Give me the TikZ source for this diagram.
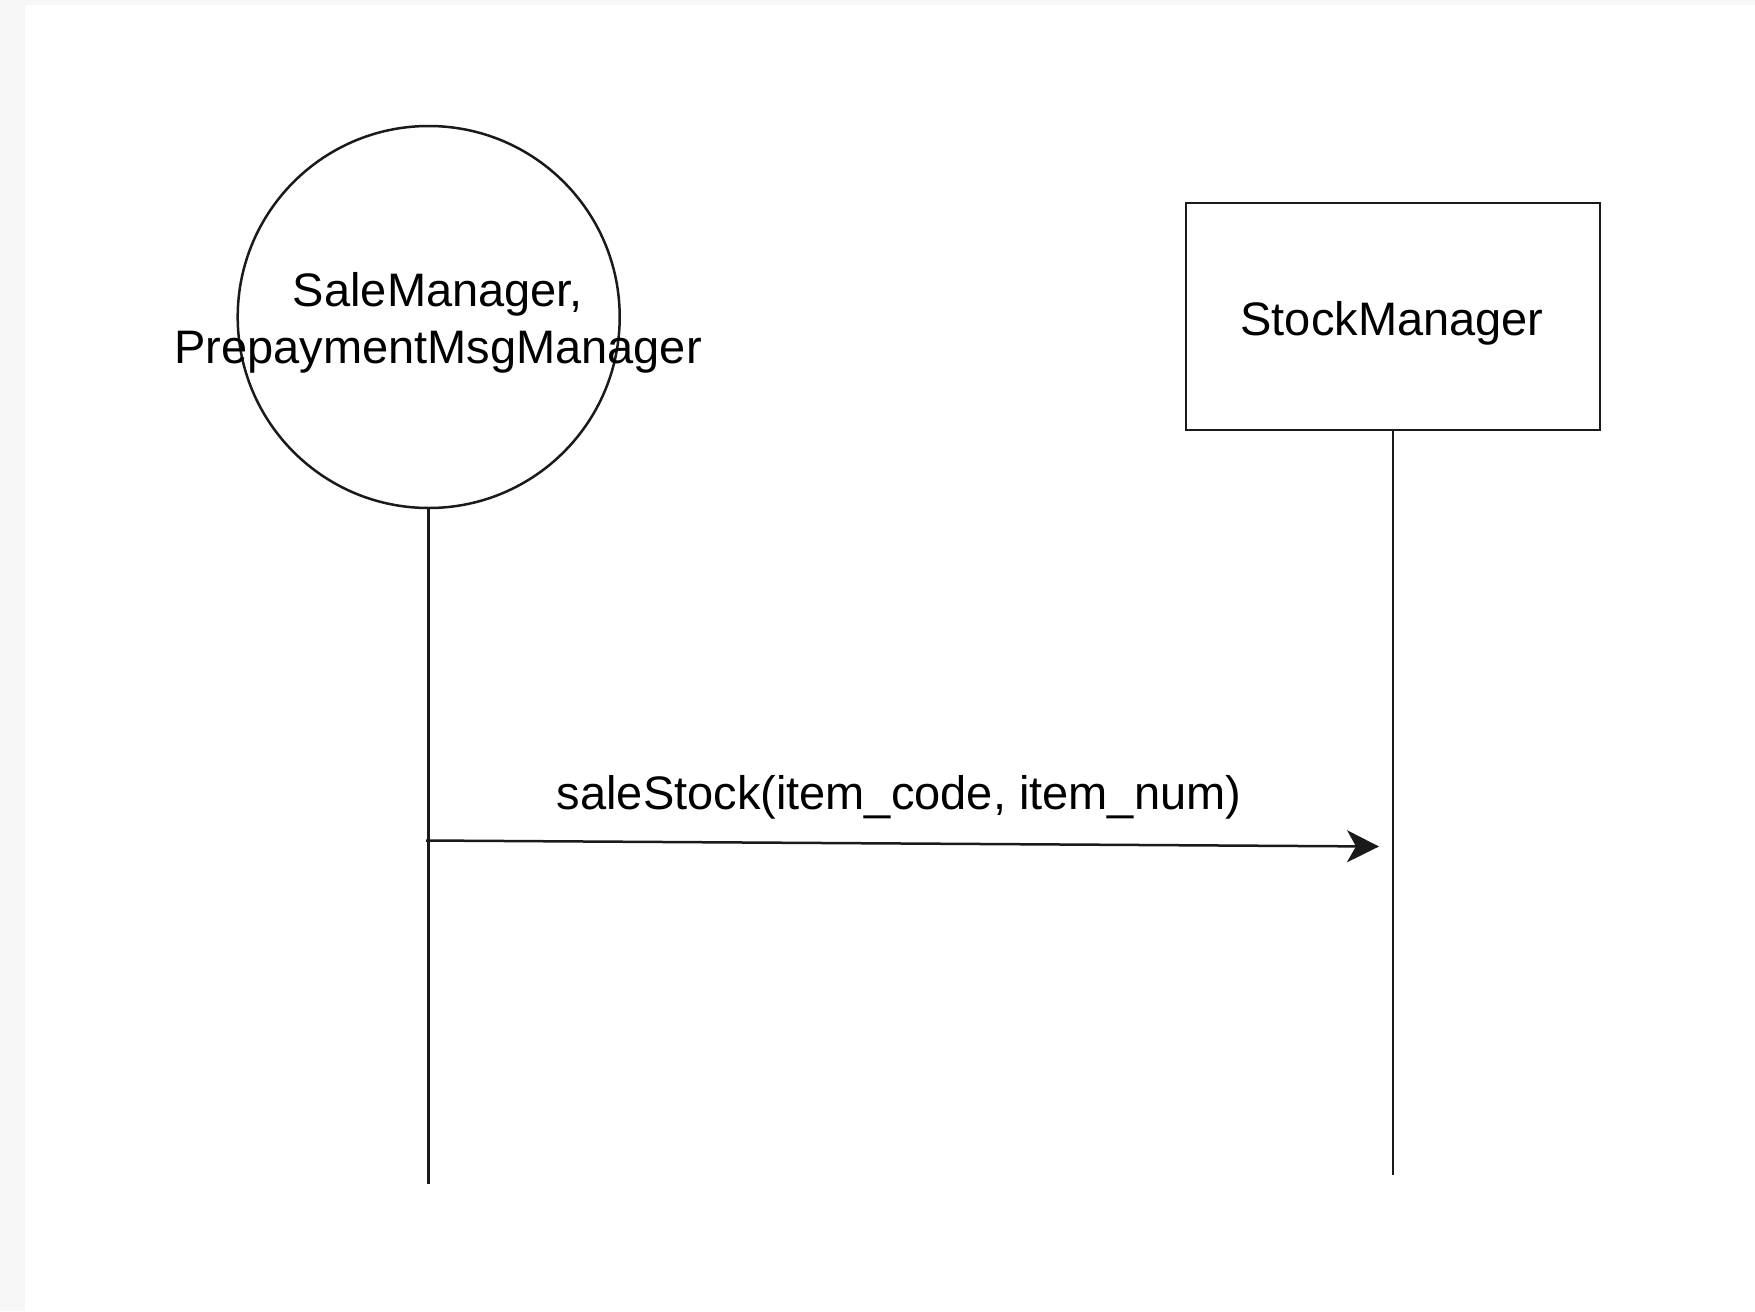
\documentclass[tikz,border=0pt]{standalone}
\usepackage{fontspec}
\setmainfont{Liberation Sans}
\usetikzlibrary{arrows.meta}
\definecolor{bggray}{HTML}{F7F7F7}
\definecolor{inkc}{HTML}{1A1A1A}
\begin{document}
\begin{tikzpicture}[x=1pt,y=-1pt,
  ink/.style={draw=inkc,line width=2.5pt},
  lbl/.style={font=\fontsize{47}{56.4}\selectfont,inner sep=0pt,text=black},
  msgarrow/.style={ink,-{Stealth[length=32pt,width=32pt,inset=9pt]}}
]
\fill[bggray] (0,0) rectangle (1755,1311);
\fill[white] (25,5) rectangle (1755,1311);
\useasboundingbox (0,0) rectangle (1755,1311);
% participants
\node[ink,circle,minimum size=382pt,inner sep=0pt] (sale) at (428.7,317) {};
\node[lbl,align=center] (saletxt) at (438,323) {SaleManager,\\PrepaymentMsgManager};
\node[ink,rectangle,minimum width=414pt,minimum height=227pt,inner sep=0pt] (stock) at (1393,316.5) {};
\node[lbl,anchor=base] (stocktxt) at (1392,335) {StockManager};
% lifelines
\coordinate (saleend) at (428.7,1184);
\coordinate (stockend) at (1393,1175);
\draw[ink] (sale.south) -- (saleend);
\draw[ink] (stock.south) -- (stockend);
% message
\coordinate (msgstart) at (426,840.5);
\coordinate (msgend) at (1379,846.5);
\draw[msgarrow] (msgstart) -- (msgend);
\node[lbl,anchor=base] (msglbl) at (899,809) {saleStock(item\_code, item\_num)};
\end{tikzpicture}
\end{document}
